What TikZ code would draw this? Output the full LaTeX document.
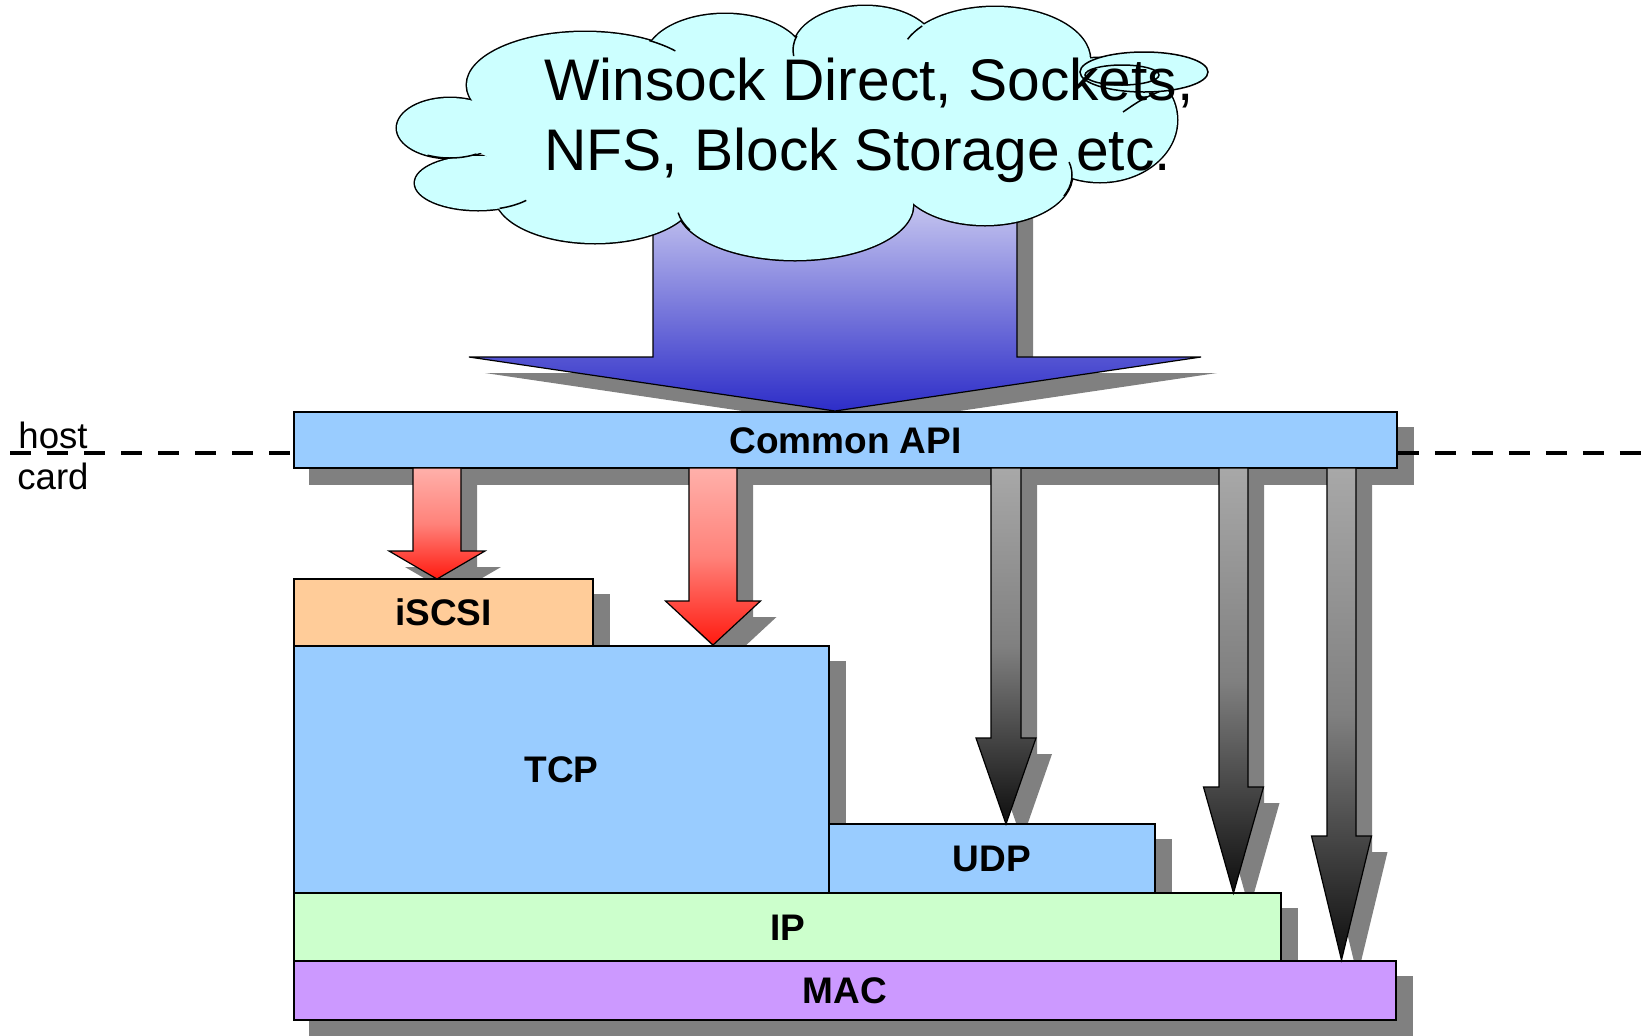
\documentclass[tikz,border=0pt]{standalone}
\usepackage{fontspec}
\setmainfont{Liberation Sans}
\pgfdeclarelayer{shadowlayer}
\pgfsetlayers{shadowlayer,main}
\definecolor{apiblue}{RGB}{153,204,255}
\definecolor{iscsiorange}{RGB}{255,204,153}
\definecolor{ipgreen}{RGB}{204,255,204}
\definecolor{macpurple}{RGB}{204,153,255}
\definecolor{cloudcyan}{RGB}{204,255,255}
\definecolor{shadowgray}{RGB}{128,128,128}
\definecolor{bluetop}{RGB}{200,200,240}
\definecolor{bluebot}{RGB}{45,45,200}
\definecolor{redtop}{RGB}{255,176,170}
\definecolor{redmid}{RGB}{255,130,122}
\definecolor{redbot}{RGB}{255,26,16}
\definecolor{graytop}{RGB}{168,168,168}
\definecolor{graymid}{RGB}{128,128,128}
\definecolor{graybot}{RGB}{14,14,14}
\newcommand{\labelfont}{\fontsize{18.5}{22}\selectfont\bfseries}
\newcommand{\cloudfont}{\fontsize{29.35}{35}\selectfont}
\newcommand{\sidefont}{\fontsize{18.3}{22}\selectfont}
% block arrow: xc, ytop, ytip, half shaft, half head, head length, style
\newcommand{\blockarrow}[7]{\path[#7] ({#1-#4},{#2}) -- ({#1+#4},{#2}) -- ({#1+#4},{#3-#6}) -- ({#1+#5},{#3-#6}) -- ({#1},{#3}) -- ({#1-#5},{#3-#6}) -- ({#1-#4},{#3-#6}) -- cycle;}
\newcommand{\cloudlobes}[1]{%
\path[#1] (450,128) ellipse [x radius=53, y radius=30];
\path[#1] (478,183) ellipse [x radius=63, y radius=27];
\path[#1] (585,85) ellipse [x radius=118, y radius=53];
\path[#1] (725,60) ellipse [x radius=80, y radius=46];
\path[#1] (865,50) ellipse [x radius=72, y radius=44];
\path[#1] (995,60) ellipse [x radius=95, y radius=53];
\path[#1] (1100,120) ellipse [x radius=77, y radius=62];
\path[#1] (985,175) ellipse [x radius=87, y radius=50];
\path[#1] (795,205) ellipse [x radius=118, y radius=55];
\path[#1] (595,195) ellipse [x radius=100, y radius=48];
}
\newcommand{\lobearc}[6]{\draw[cloudline] ({#1+#3*cos(#5)},{#2+#4*sin(#5)}) arc[start angle=#5, end angle=#6, x radius=#3, y radius=#4];}
\tikzset{
  layer/.style={draw=black, line width=0.8pt, inner sep=0pt, font=\labelfont, text height=13.2pt, text depth=0pt},
  shadowbox/.style={fill=shadowgray},
  hostline/.style={draw=black, line width=2pt, dash pattern=on 10.5pt off 8pt},
  bigarrow/.style={draw=black, line width=0.6pt, top color=bluetop, bottom color=bluebot},
  redarrow/.style={draw=black, line width=0.6pt, top color=redtop, bottom color=redbot, middle color=redmid},
  grayarrow/.style={draw=black, line width=0.6pt, top color=graytop, bottom color=graybot, middle color=graymid},
  cloudline/.style={draw=black, line width=0.75pt},
  cloudbubble/.style={draw=black, line width=0.75pt, fill=cloudcyan},
  cloudtext/.style={font=\cloudfont, inner sep=0pt, anchor=base west},
  sidetext/.style={font=\sidefont, inner sep=0pt, anchor=base west}
}
\begin{document}
\begin{tikzpicture}[x=0.5pt, y=-0.5pt, line join=miter]
\useasboundingbox (0,0) rectangle (1645,1035);

% layer boxes
\node[layer, fill=apiblue, minimum width=551.5pt, minimum height=28pt] (api) at (845.5,440) {Common API};
\node[layer, fill=iscsiorange, minimum width=149.5pt, minimum height=33.5pt] (iscsi) at (443.5,612.5) {iSCSI};
\node[layer, fill=apiblue, minimum width=267.5pt, minimum height=123.5pt] (tcp) at (561.5,769.5) {TCP};
\node[layer, fill=apiblue, minimum width=163pt, minimum height=34.5pt] (udp) at (992,858.5) {UDP};
\node[layer, fill=ipgreen, minimum width=493.5pt, minimum height=34pt] (ip) at (787.5,927) {IP};
\node[layer, fill=macpurple, minimum width=551pt, minimum height=29.5pt] (mac) at (845,990.5) {MAC};

\coordinate (hl) at (10,453);
\coordinate (hr) at (1645,453);

\begin{pgfonlayer}{shadowlayer}
  \begin{scope}[shift={(16,16)}]
    \blockarrow{835}{200}{411}{182}{366}{54}{shadowbox}
    \blockarrow{437}{468}{579}{24}{48}{28}{shadowbox}
    \blockarrow{713}{468}{645}{24}{47.5}{44}{shadowbox}
    \blockarrow{1006}{468}{824}{15}{30}{86}{shadowbox}
    \blockarrow{1233.5}{468}{893}{14.5}{30}{106}{shadowbox}
    \blockarrow{1341.5}{468}{960}{14.5}{30}{124}{shadowbox}
  \end{scope}
  \foreach \n in {api,iscsi,tcp,udp,ip,mac}{
    \fill[shadowgray] ([shift={(16,16)}]\n.south west) rectangle ([shift={(16,16)}]\n.north east);
  }
  \draw[hostline] (hl) -- (hl -| api.west);
  \draw[hostline] (hr -| api.east) -- (hr);
\end{pgfonlayer}

% arrows
\blockarrow{835}{200}{411}{182}{366}{54}{bigarrow}
\blockarrow{437}{468}{579}{24}{48}{28}{redarrow}
\blockarrow{713}{468}{645}{24}{47.5}{44}{redarrow}
\blockarrow{1006}{468}{824}{15}{30}{86}{grayarrow}
\blockarrow{1233.5}{468}{893}{14.5}{30}{106}{grayarrow}
\blockarrow{1341.5}{468}{960}{14.5}{30}{124}{grayarrow}

% cloud
\cloudlobes{draw=black, line width=1.5pt}
\cloudlobes{fill=cloudcyan}
\path[fill=cloudcyan] (790,125) ellipse [x radius=330, y radius=80];
\lobearc{450}{128}{53}{30}{115}{60}
\lobearc{478}{183}{63}{27}{70}{40}
\lobearc{585}{85}{118}{53}{-57}{-40}
\lobearc{795}{205}{118}{55}{153}{172}
\lobearc{865}{50}{72}{44}{199}{172}
\lobearc{995}{60}{95}{53}{220}{203}
\lobearc{985}{175}{87}{50}{25}{-15}
\draw[cloudline] (1123,112) .. controls (1142,99) .. (1163,90);
\path[cloudbubble] (1144,72) ellipse [x radius=64, y radius=20];
\path[cloudbubble] (1122,75) ellipse [x radius=37, y radius=10];

\node[cloudtext] (t1) at (544,100) {Winsock Direct, Sockets,};
\node[cloudtext] (t2) at (544,170) {NFS, Block Storage etc.};

\node[sidetext] (host) at (18,448) {host};
\node[sidetext] (card) at (17,489) {card};
\end{tikzpicture}
\end{document}
